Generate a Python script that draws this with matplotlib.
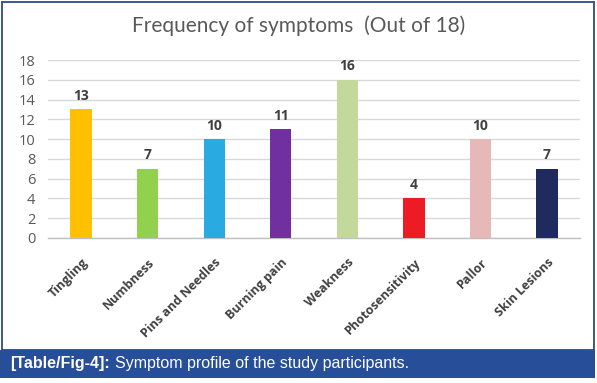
import matplotlib.pyplot as plt
from matplotlib.patches import Rectangle
from matplotlib.text import Annotation

# symptom data
symptoms = ['Tingling', 'Numbness', 'Pins and Needles', 'Burning pain',
            'Weakness', 'Photosensitivity', 'Pallor', 'Skin Lesions']
counts = [13, 7, 10, 11, 16, 4, 10, 7]
bar_colors = ['#FFC000', '#92D050', '#29ABE2', '#7030A0',
              '#C3D89B', '#ED1C24', '#E6B8B7', '#1F2A5E']
y_ticks = [0, 2, 4, 6, 8, 10, 12, 14, 16, 18]

fig = plt.figure(figsize=(5.97, 3.83), dpi=100)

# outer frame of the chart
fig.patches.append(Rectangle((0.004, 0.085), 0.991, 0.909, transform=fig.transFigure,
                             facecolor='white', edgecolor='#2B4A8B', linewidth=1.3, zorder=-10))
# caption bar
fig.patches.append(Rectangle((0.0, 0.013), 0.997, 0.074, transform=fig.transFigure,
                             facecolor='#274E98', edgecolor='none', zorder=-10))

ax = fig.add_axes([0.080, 0.379, 0.892, 0.464])
ax.set_facecolor('none')
x = range(len(symptoms))
ax.bar(x, counts, width=0.32, color=bar_colors, zorder=3)

for xi, c in zip(x, counts):
    ax.text(xi, c + 0.65, str(c), ha='center', va='bottom', fontsize=10,
            fontweight='bold', color='#404040', family='Open Sans')

ax.set_xlim(-0.5, len(symptoms) - 0.5)
ax.set_ylim(0, 18)
ax.set_yticks(y_ticks)
ax.set_yticklabels([str(t) for t in y_ticks], fontsize=10.5, color='#595959', family='Open Sans')
ax.yaxis.grid(True, color='#D9D9D9', linewidth=1, zorder=0)
ax.set_axisbelow(True)
ax.tick_params(axis='y', length=0, pad=9)
ax.tick_params(axis='x', length=0, pad=13)
for s in ['top', 'right', 'left']:
    ax.spines[s].set_visible(False)
ax.spines['bottom'].set_color('#BFBFBF')
ax.spines['bottom'].set_linewidth(1)

ax.set_xticks(list(x))
ax.set_xticklabels(symptoms, rotation=45, ha='right', rotation_mode='anchor',
                   fontsize=9, fontweight='bold', color='#404040', family='Open Sans')

fig.text(0.50, 0.933, 'Frequency of symptoms  (Out of 18)', ha='center', va='center',
         fontsize=15, color='#595959', family='Lato')

cap = fig.text(0.017, 0.050, '[Table/Fig-4]:', ha='left', va='center', fontsize=11.5,
               fontweight='bold', color='white', family='Liberation Sans')
fig.add_artist(Annotation('Symptom profile of the study participants.', xy=(1, 0.5),
                          xycoords=cap, xytext=(4, 0), textcoords='offset points',
                          ha='left', va='center', fontsize=11.5, color='white',
                          family='Liberation Sans'))

fig.savefig('out.png', dpi=100)
